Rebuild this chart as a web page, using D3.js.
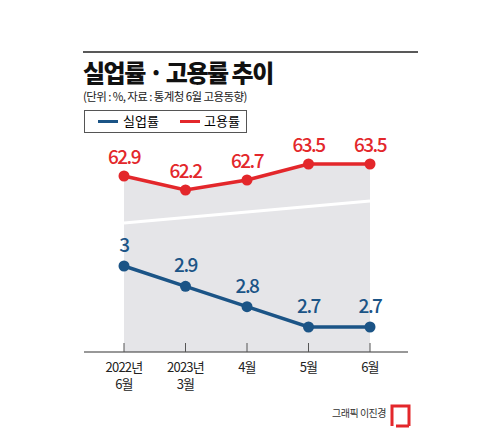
<!DOCTYPE html><html><head><meta charset="utf-8"><script src="https://cdn.jsdelivr.net/npm/d3@7"></script>
<style>body{margin:0;background:#fff}text{font-family:"Noto Sans CJK KR",sans-serif}</style></head><body><svg id="c" width="500" height="429"></svg>
<script>
const categories=["2022년\n6월","2023년\n3월","4월","5월","6월"];
const employment=[62.9,62.2,62.7,63.5,63.5];
const unemployment=[3,2.9,2.8,2.7,2.7];
const employmentLabels=["62.9","62.2","62.7","63.5","63.5"];
const unemploymentLabels=["3","2.9","2.8","2.7","2.7"];
const RED="#e3272b",BLUE="#1b5486";
const svg=d3.select("#c");
svg.append("line").attr("x1",83).attr("x2",418).attr("y1",52).attr("y2",52).attr("stroke","#222").attr("stroke-width",1.5);
svg.append("text").attr("x",83).attr("y",82).attr("font-size",24).attr("font-weight",900).attr("letter-spacing",-1.5).attr("fill","#111").text("실업률 · 고용률 추이");
svg.append("text").attr("x",83).attr("y",101).attr("font-size",11.5).attr("fill","#222").attr("letter-spacing",-0.6).text("(단위 : %, 자료 : 통계청 6월 고용동향)");
const lg=svg.append("g");
lg.append("rect").attr("x",84.5).attr("y",110.5).attr("width",162).attr("height",22).attr("fill","#fff").attr("stroke","#555");
lg.append("line").attr("x1",98).attr("x2",118).attr("y1",121.5).attr("y2",121.5).attr("stroke",BLUE).attr("stroke-width",3);
lg.append("text").attr("x",123).attr("y",126).attr("font-size",13).text("실업률");
lg.append("line").attr("x1",180).attr("x2",200).attr("y1",121.5).attr("y2",121.5).attr("stroke",RED).attr("stroke-width",3);
lg.append("text").attr("x",204).attr("y",126).attr("font-size",13).text("고용률");
const x=d3.scalePoint().domain(categories).range([124,370]);
const yE=d3.scaleLinear().domain([62.2,63.5]).range([190,164]);
const yU=d3.scaleLinear().domain([2.7,3]).range([327,266]);
const base=352;
svg.append("path").datum(categories).attr("fill","#e5e5e8").attr("d",d3.area().x(d=>x(d)).y0(base).y1((d,i)=>yE(employment[i])));
svg.append("line").attr("x1",124).attr("x2",370).attr("y1",223).attr("y2",201).attr("stroke","#fff").attr("stroke-width",3);
const g=svg.append("g").attr("transform",`translate(0,${base})`);
g.append("line").attr("x1",84).attr("x2",408).attr("stroke","#333").attr("stroke-width",1.2);
categories.forEach(c=>g.append("line").attr("x1",x(c)).attr("x2",x(c)).attr("y1",0).attr("y2",-9).attr("stroke","#555"));
categories.forEach(c=>{const t=g.append("text").attr("text-anchor","middle").attr("font-size",13).attr("fill","#222").attr("letter-spacing",-0.8);
 c.split("\n").forEach((s,k)=>t.append("tspan").attr("x",x(c)).attr("y",20+k*17).text(s));});
function series(vals,y,col,labels,off){
 svg.append("path").datum(vals).attr("fill","none").attr("stroke",col).attr("stroke-width",3.5).attr("d",d3.line().x((d,i)=>x(categories[i])).y(d=>y(d)));
 svg.selectAll(null).data(vals).join("circle").attr("cx",(d,i)=>x(categories[i])).attr("cy",d=>y(d)).attr("r",5.5).attr("fill",col);
 svg.selectAll(null).data(vals).join("text").attr("x",(d,i)=>x(categories[i])).attr("y",d=>y(d)-off).attr("text-anchor","middle").attr("font-size",19).attr("font-weight",500).attr("letter-spacing",-1.5).attr("fill",col).text((d,i)=>labels[i]);
}
series(employment,yE,RED,employmentLabels,12);
series(unemployment,yU,BLUE,unemploymentLabels,14);
svg.append("text").attr("x",386).attr("y",417).attr("text-anchor","end").attr("font-size",10).attr("fill","#333").attr("letter-spacing",-0.5).text("그래픽 이진경");
svg.append("path").attr("d","M392,426 V406 H409 V426 M396,426 H409").attr("fill","none").attr("stroke",RED).attr("stroke-width",3);
</script></body></html>
